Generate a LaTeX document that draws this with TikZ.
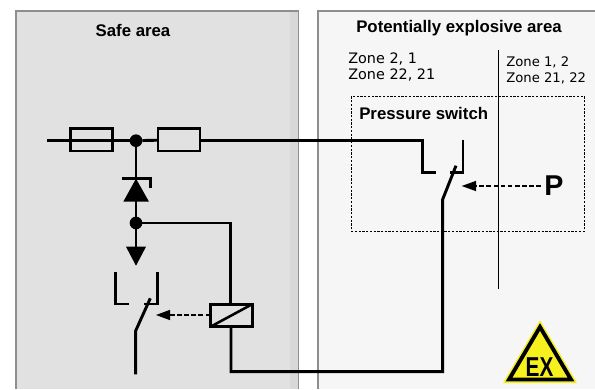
\documentclass[tikz,border=0pt]{standalone}
\usepackage{fontspec}
\setmainfont{Liberation Sans}
\newfontfamily\zonefont{DejaVu Sans}
\definecolor{safebg}{HTML}{E1E1E1}
\definecolor{safeedge}{HTML}{D8D8D8}
\definecolor{exbg}{HTML}{F6F6F6}
\definecolor{frameedge}{HTML}{8E8E8E}
\definecolor{warnyellow}{HTML}{F5F01E}
\tikzset{
  x=0.75pt,y=-0.75pt,
  wire/.style={line width=2.2pt,line cap=butt,line join=miter},
  symbox/.style={draw,line width=2.1pt,rectangle,inner sep=0pt,outer sep=0pt,minimum width=31.5pt,minimum height=17pt},
  dotj/.style={circle,fill=black,inner sep=0pt,outer sep=0pt,minimum size=9.5pt},
  act/.style={line width=2pt,dash pattern=on 3.6pt off 1.7pt},
  title/.style={font=\bfseries\fontsize{12.6pt}{14pt}\selectfont,inner sep=0pt},
  zone/.style={font=\zonefont\fontsize{10.8pt}{12pt}\selectfont,anchor=west,align=left,inner sep=0pt},
}
\begin{document}
\begin{tikzpicture}
\useasboundingbox (0,0) rectangle (595,389);
\fill[white] (0,0) rectangle (595,389);
% panels
\fill[safebg] (16,11) rectangle (298.5,389);
\fill[safeedge] (290,11) rectangle (298.5,389);
\draw[frameedge,line width=0.9pt] (16,389) -- (16,11) -- (298.5,11) -- (298.5,389);
\fill[exbg] (318,11) rectangle (595,389);
\draw[frameedge,line width=0.9pt] (318,389) -- (318,11) -- (595,11);
\node[title] (safe) at (133,30) {Safe area};
\node[title] (pot) at (459,28) {Potentially explosive area};
\node[zone] (z1) at (348,67) {Zone 2, 1\\Zone 22, 21};
\node[zone,font=\zonefont\fontsize{9.9pt}{12pt}\selectfont] (z2) at (506,70.5) {Zone 1, 2\\Zone 21, 22};
% zone divider and switch outline
\coordinate (zt) at (498.3,50);
\coordinate (zb) at (498.3,289);
\draw[line width=0.9pt] (zt) -- (zb);
\draw[line width=1pt,dash pattern=on 1.7pt off 1.1pt] (351.7,96.3) rectangle (584.3,231.3);
\node[title,anchor=west] (ps) at (359,113.5) {Pressure switch};
% symbols
\coordinate (in) at (47,140.7);
\node[dotj] (j1) at (136,140.7) {};
\node[dotj] (j2) at (136,223) {};
\node[symbox] (fuse) at (91.5,139.7) {};
\node[symbox] (res) at (179,139.7) {};
\node[symbox] (rel) at (231.3,315.5) {};
\draw[wire] (in) -- (j1);
\draw[wire] (j1) -- (res);
\draw[wire] (fuse.west |- in) -- (fuse.east |- in);
% main line to upper switch
\coordinate (uL) at (422.5,172.3);
\draw[wire] (res.east |- in) -- (uL |- in) -- (uL) -- (436,172.3);
\draw[wire] (463,139.5) -- (463,172.3) -- (450,172.3);
% upper blade and return
\coordinate (uB) at (442.7,199.3);
\draw[wire] (456,165.7) -- (uB) -- (442.7,371.7) -- (231,371.7) -- (231,327.7);
% diode
\draw[wire] (j1) -- (j2);
\fill (136,178.7) -- (149,201.7) -- (123.3,201.7) -- cycle;
\draw[line width=1.9pt] (122.3,178.7) -- (150.5,178.7) -- (150.5,188.3);
% lower arrow head
\draw[wire] (j2) -- (136,247);
\fill (126,246.7) -- (146,246.7) -- (136,265.7) -- cycle;
% relay feed
\draw[wire] (j2) -- (230.7,223) -- (230.7,303.5);
\draw[line width=1.9pt] (rel.south west) -- (rel.north east);
% lower switch
\draw[wire] (115.7,271.7) -- (115.7,304) -- (129,304);
\draw[wire] (157.3,271.7) -- (157.3,304) -- (143.7,304);
\draw[wire] (150.3,298.3) -- (135.7,330.7) -- (135.7,374.3);
% actuator arrows
\coordinate (a1) at (170,315);
\fill (156,315) -- (170,309.8) -- (170,320.2) -- cycle;
\draw[act] (rel.west |- a1) -- (a1);
\node[inner sep=0pt,font=\bfseries\fontsize{21.5pt}{22pt}\selectfont] (p) at (554,186) {P};
\coordinate (a2) at (476,186);
\fill (461.7,186) -- (476,180.8) -- (476,191.2) -- cycle;
\draw[act] (540.7,186) -- (a2);
% EX sign
\fill[warnyellow,draw=warnyellow,line width=1pt,line join=round] (540,321.5) -- (576,382.5) -- (504,382.5) -- cycle;
\draw[line width=2.9pt,line join=miter] (540,327) -- (571,379.5) -- (509,379.5) -- cycle;
\node[inner sep=0pt,font=\bfseries\fontsize{20.5pt}{22pt}\selectfont,xscale=0.76] (ex) at (539.5,367) {EX};
\end{tikzpicture}
\end{document}
